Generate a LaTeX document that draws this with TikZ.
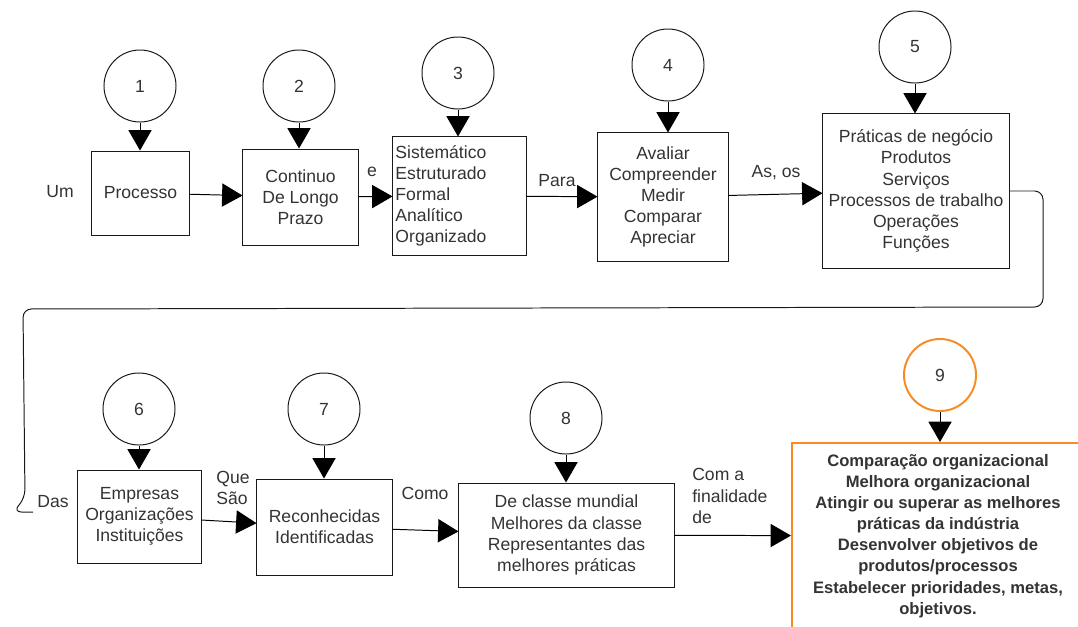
\documentclass[tikz,border=0pt]{standalone}
\usepackage{fontspec}
\setmainfont{Liberation Sans}
\usetikzlibrary{arrows.meta}
\definecolor{laranja}{RGB}{247,140,38}

\begin{document}
\begin{tikzpicture}[x=0.025cm,y=-0.025cm,
    font=\fontsize{12.5}{15}\selectfont,
    every node/.style={text=black!80},
    caixa/.style={draw=black!90, line width=0.7pt, align=center, inner sep=0pt},
    bola/.style={draw=black!90, circle, line width=0.7pt, minimum size=1.8cm, inner sep=0pt},
    seta/.style={draw=black, line width=0.7pt, -{Triangle[length=14.5pt,width=16.5pt]}},
    rotulo/.style={inner sep=0pt}]

    \useasboundingbox (0,0) rectangle (1078,626);
    \clip (0,0) rectangle (1078,626);

    % primeira linha
    \node[caixa, minimum width=2.425cm, minimum height=2.1cm] (P1) at (140.5,193) {Processo};
    \node[caixa, minimum width=2.875cm, minimum height=2.4cm] (P2) at (300.5,197) {Continuo\\De Longo\\Prazo};
    \node[caixa, minimum width=3.325cm, minimum height=2.95cm, text width=3.2cm, align=left, inner xsep=0.0625cm] (P3) at (459.5,196)
        {Sistemático\\Estruturado\\Formal\\Analítico\\Organizado};
    \node[caixa, minimum width=3.25cm, minimum height=3.2cm] (P4) at (663,197) {Avaliar\\Compreender\\Medir\\Comparar\\Apreciar};
    \node[caixa, minimum width=4.65cm, minimum height=3.85cm] (P5) at (916,191)
        {Práticas de negócio\\Produtos\\Serviços\\Processos de trabalho\\Operações\\Funções};

    % segunda linha
    \node[caixa, minimum width=3.075cm, minimum height=2.325cm] (P6) at (139.5,516.5) {Empresas\\Organizações\\Instituições};
    \node[caixa, minimum width=3.375cm, minimum height=2.4cm] (P7) at (324.5,527) {Reconhecidas\\Identificadas};
    \node[caixa, minimum width=5.375cm, minimum height=2.6cm] (P8) at (566.5,535)
        {De classe mundial\\Melhores da classe\\Representantes das\\melhores práticas};
    \node[caixa, draw=laranja, line width=1.4pt, minimum width=7.3cm, minimum height=4.65cm,
        font=\bfseries\fontsize{11.8}{15}\selectfont] (P9) at (938,536)
        {Comparação organizacional\\Melhora organizacional\\Atingir ou superar as melhores\\práticas da indústria\\
         Desenvolver objetivos de\\produtos/processos\\Estabelecer prioridades, metas,\\objetivos.};

    % circulos numerados
    \foreach \n/\x/\y in {1/140/86, 2/299/86, 3/458/73, 4/668/65, 5/915/47, 6/139/409, 7/324/409, 8/566/418}
        \node[bola] (C\n) at (\x,\y) {\n};
    \node[bola, draw=laranja, line width=1.4pt] (C9) at (940,375) {9};

    \foreach \n in {1,...,9}
        \draw[seta] (C\n.south) -- (C\n.south |- P\n.north);

    % ligacoes entre caixas
    \draw[seta] (P1) -- (P2);
    \draw[seta] (P2) -- (P3);
    \draw[seta] (P3) -- (P4);
    \draw[seta] (P4) -- (P5);
    \draw[seta] (P6) -- (P7);
    \draw[seta] (P7) -- (P8);
    \draw[seta] (P8) -- (P9);

    \coordinate (laco) at (33,512);
    \draw[draw=black!90, line width=0.7pt, rounded corners=6] (P5.east) -| (1043,307) -- (23,309) -- (25,498) -- (13,512) -- (laco);

    % rotulos
    \node[rotulo] (um) at (60,192) {Um};
    \node[rotulo] (e) at (372,172) {e};
    \node[rotulo] (para) at (557,181) {Para};
    \node[rotulo] (asos) at (776,173) {As, os};
    \node[rotulo] (das) at (53,502) {Das};
    \node[rotulo, align=left] (quesao) at (233,488) {Que\\São};
    \node[rotulo] (como) at (425,493) {Como};
    \node[rotulo, align=left, anchor=west] (finalidade) at (692,496) {Com a\\finalidade\\de};

\end{tikzpicture}
\end{document}
